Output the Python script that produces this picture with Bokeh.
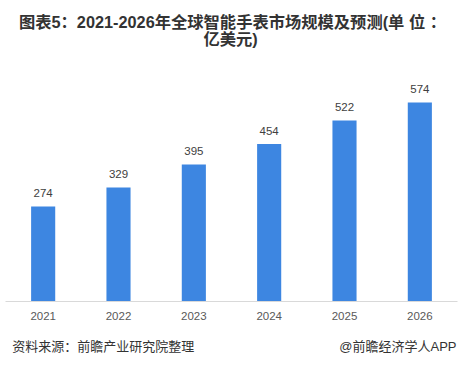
from bokeh.plotting import figure
from bokeh.models import ColumnDataSource, FactorRange, Range1d
from bokeh.layouts import column
from bokeh.core.properties import value
from bokeh.embed import file_html
from bokeh.resources import INLINE

years = ["2021", "2022", "2023", "2024", "2025", "2026"]
market = [274, 329, 395, 454, 522, 574]
labels = [str(v) for v in market]

title_lines = ["图表5：2021-2026年全球智能手表市场规模及预测(单 位 ：", "亿美元)"]
source_text = "资料来源：前瞻产业研究院整理"
brand_text = "@前瞻经济学人APP"

FONT = "Liberation Sans, Noto Sans CJK SC"
W = 462


def blank(h):
    f = figure(width=W, height=h, output_backend="svg", toolbar_location=None,
               x_range=Range1d(0, W), y_range=Range1d(0, h), min_border=0)
    f.axis.visible = False
    f.grid.visible = False
    f.outline_line_color = None
    return f


# header with two-line title
head = blank(62)
head.text(x=[232, 230], y=[41, 24], text=title_lines, text_align="center",
          text_baseline="middle", text_font_size="16.3px", text_font_style="bold",
          text_color="#333333", text_font=value(FONT))

# main chart
src = ColumnDataSource(dict(x=years, y=market, t=labels))
p = figure(width=W, height=270, output_backend="svg", toolbar_location=None,
           x_range=FactorRange(factors=years, range_padding=0,
                               range_padding_units="absolute"),
           y_range=Range1d(0, 689),
           min_border_left=5, min_border_right=5,
           min_border_top=0, min_border_bottom=31)
p.vbar(x="x", top="y", width=0.32, source=src, color="#3d86e1", line_color=None)
p.text(x="x", y="y", text="t", source=src, text_align="center",
       text_baseline="alphabetic", y_offset=-13, text_font_size="11.5px",
       text_color="#404040", text_font=value(FONT))
p.yaxis.visible = False
p.xgrid.visible = False
p.ygrid.visible = False
p.outline_line_color = None
p.xaxis.axis_line_color = "#d9d9d9"
p.xaxis.major_tick_line_color = None
p.xaxis.minor_tick_line_color = None
p.xaxis.major_label_text_font_size = "11.5px"
p.xaxis.major_label_text_color = "#595959"
p.xaxis.major_label_text_font = FONT
p.xaxis.major_label_standoff = 4

# footer
foot = blank(35)
foot.text(x=[7], y=[21], text=[source_text], text_align="left",
          text_baseline="middle", text_font_size="13px", text_color="#333333",
          text_font=value(FONT))
foot.text(x=[461], y=[21], text=[brand_text], text_align="right",
          text_baseline="middle", text_font_size="13px", text_color="#333333",
          text_font=value(FONT))

layout = column(head, p, foot, spacing=0)
open("out.html", "w").write(file_html(layout, INLINE))
